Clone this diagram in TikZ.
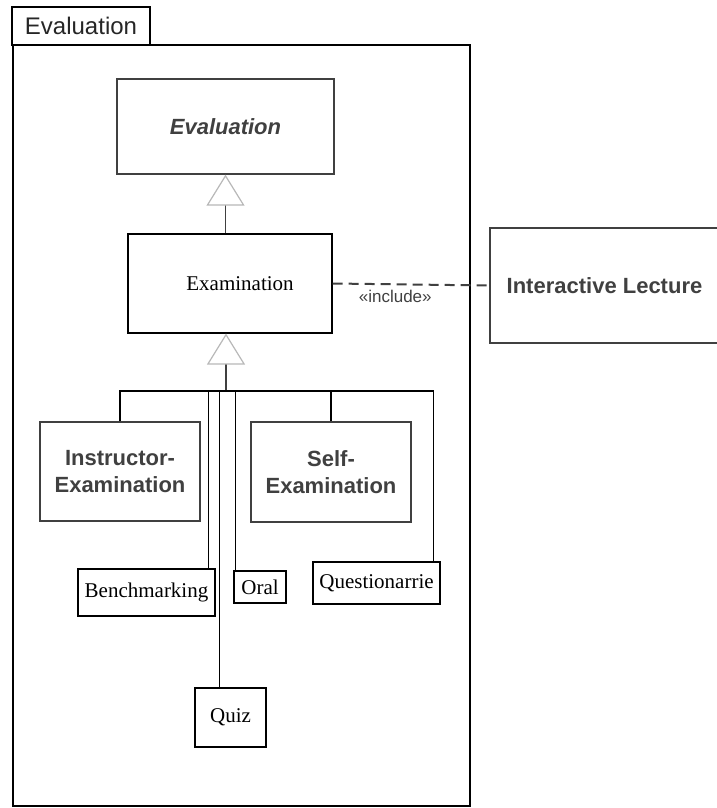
\documentclass[tikz,border=0pt]{standalone}
\usepackage{xcolor}
\usepackage{fontspec}
\setmainfont{Liberation Serif}
\setsansfont{Liberation Sans}
\usepackage{tikz}
\usetikzlibrary{arrows.meta}
\definecolor{umldark}{gray}{0.25}
\definecolor{umllight}{gray}{0.72}

\begin{document}
\begin{tikzpicture}[
        x = 1pt, y = -1pt,
        every node/.style = {rectangle, draw, inner sep=0pt},
        boldbox/.style = {draw=umldark, line width=1.3pt, text=umldark, align=center,
          font=\sffamily\bfseries\fontsize{22}{27}\selectfont},
        plainbox/.style = {draw=black, line width=1.1pt, font=\fontsize{21}{25}\selectfont},
        genline/.style = {draw=umldark, line width=1.2pt},
        gentip/.style = {-{Triangle[length=31pt, width=38pt, fill=white, color=umllight]}},
        stereo/.style = {draw=none, text=umldark, font=\sffamily\fontsize{17}{20}\selectfont},
      ]
      \useasboundingbox (0,0) rectangle (717,808);

      \node[line width=1.5pt, minimum width=138pt, minimum height=38pt, text=black!85,
        font=\sffamily\fontsize{24}{28}\selectfont] (tab) at (81,26) {Evaluation};
      \draw[line width=2.4pt] (13,45) rectangle (470,806);

      \node[boldbox, font=\sffamily\bfseries\itshape\fontsize{22}{27}\selectfont,
        minimum width=217pt, minimum height=95pt] (eval) at (225.5,126.5) {Evaluation};
      \node[plainbox, minimum width=204pt, minimum height=99pt] (exam) at (230,283.5) {\hspace*{20pt}Examination};
      \node[boldbox, minimum width=229pt, minimum height=115pt] (lecture) at (604.5,285.5) {Interactive Lecture};

      \node[boldbox, minimum width=160pt, minimum height=99pt] (instr) at (120,471.5) {Instructor-\\Examination};
      \node[boldbox, minimum width=160pt, minimum height=100pt] (self) at (331,472) {Self-\\Examination};

      \node[plainbox, minimum width=137pt, minimum height=47pt] (bench) at (146.5,592.5) {Benchmarking};
      \node[plainbox, minimum width=52pt, minimum height=32pt] (oral) at (260,587) {Oral};
      \node[plainbox, minimum width=127pt, minimum height=42pt] (quest) at (376.5,583) {Questionarrie};
      \node[plainbox, minimum width=71pt, minimum height=59pt] (quiz) at (230.5,717.5) {Quiz};

      \coordinate (join) at (226,391);

      \draw[genline, gentip] (exam.north -| eval.south) -- (eval.south);
      \draw[genline, gentip] (join) -- (join |- exam.south);

      \draw[genline, black] (instr.north) |- (join) -| ([xshift=-7pt]quest.north east);
      \draw[genline, black] (self.north) -- (self.north |- join);
      \draw[genline, black] ([xshift=-7pt]bench.north east) -- ([xshift=-7pt]bench.north east |- join);
      \draw[genline, black] ([xshift=2pt]oral.north west) -- ([xshift=2pt]oral.north west |- join);
      \draw[genline, black] ([xshift=25pt]quiz.north west) -- ([xshift=25pt]quiz.north west |- join);

      \draw[genline, line width=2pt, dash pattern=on 10pt off 6pt] (exam.east) -- (lecture.west)
        node[stereo, pos=0.4, below=5pt] (incl) {«include»};

    \end{tikzpicture}
\end{document}
